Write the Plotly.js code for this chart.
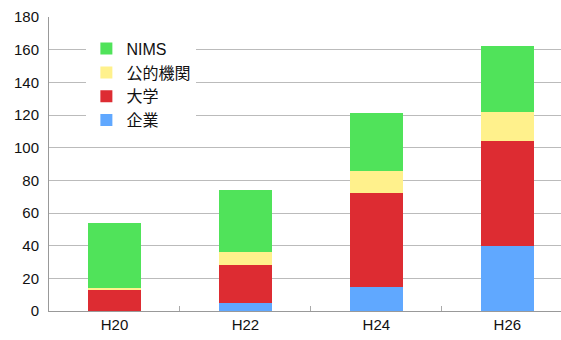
<!DOCTYPE html>
<html><head><meta charset="utf-8">
<script src="https://cdn.plot.ly/plotly-3.0.1.min.js"></script>
<style>html,body{margin:0;padding:0;background:#fff}#chart{width:561px;height:340px}</style>
</head><body><div id="chart"></div>
<script>
const categories = ["H20", "H22", "H24", "H26"];
const kigyo = [0, 5, 15, 40];       // 企業
const daigaku = [13, 23, 57, 64];   // 大学
const koteki = [1, 8, 14, 18];      // 公的機関
const nims = [40, 38, 35, 40];      // NIMS
const seriesNames = ["企業", "大学", "公的機関", "NIMS"];
const seriesColors = ["#60a8ff", "#dd2c32", "#fff18c", "#50e35a"];
const seriesValues = [kigyo, daigaku, koteki, nims];
const yTicks = [0, 20, 40, 60, 80, 100, 120, 140, 160, 180];

const traces = seriesValues.map((v, i) => ({
  type: "bar", x: categories, y: v, name: seriesNames[i],
  marker: {color: seriesColors[i], line: {width: 0}},
  hoverinfo: "none"
}));

const layout = {
  width: 561, height: 340,
  margin: {l: 49, r: 0, t: 17, b: 29},
  barmode: "stack", bargap: 0.6,
  paper_bgcolor: "#fff", plot_bgcolor: "#fff",
  font: {family: "Liberation Sans, Arial, sans-serif", color: "#111"},
  xaxis: {
    type: "category", range: [-0.5, 3.41],
    showline: true, linecolor: "#999", linewidth: 1,
    ticks: "inside", tickson: "boundaries", ticklen: 5, tickcolor: "#aaa",
    showgrid: false, tickfont: {size: 15}, fixedrange: true
  },
  yaxis: {
    range: [0, 180], tickvals: yTicks, ticktext: yTicks.map(String),
    showline: true, linecolor: "#999", linewidth: 1,
    showgrid: true, gridcolor: "#bbb", gridwidth: 1,
    ticks: "", ticklabelstandoff: 6, tickfont: {size: 15}, zeroline: false, fixedrange: true
  },
  legend: {
    x: 0.073, xanchor: "left", y: 0.95, yanchor: "top",
    bgcolor: "#fff", borderwidth: 0, traceorder: "reversed",
    font: {size: 16, family: "Liberation Sans, Noto Sans CJK JP, sans-serif"},
    itemwidth: 30
  },
  showlegend: true
};
Plotly.newPlot("chart", traces, layout, {displayModeBar: false, staticPlot: true});
</script></body></html>
